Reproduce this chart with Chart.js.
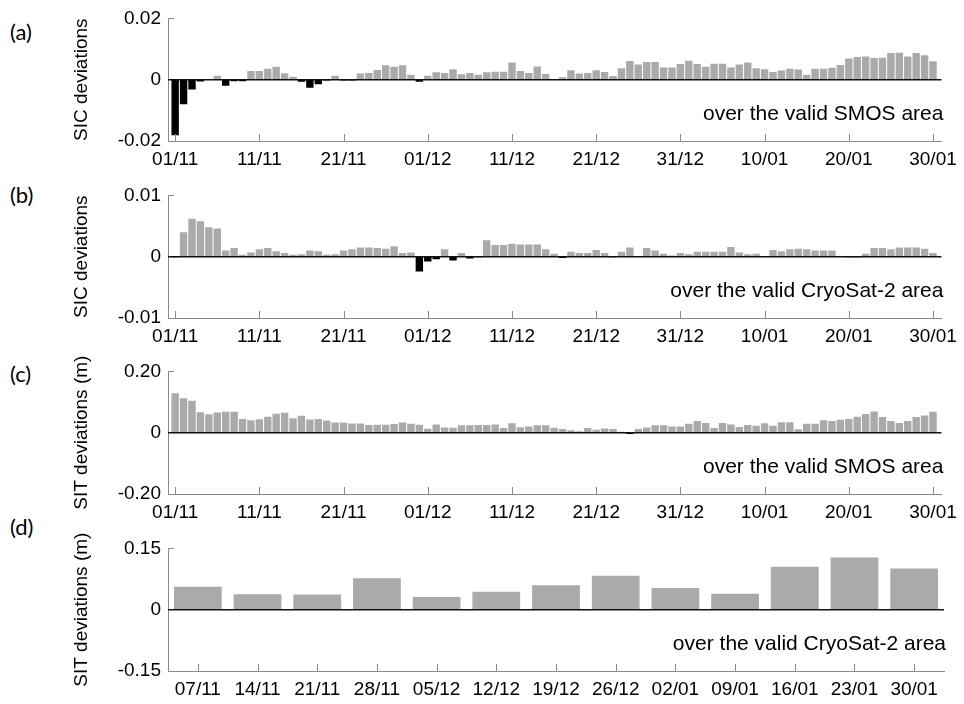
<!DOCTYPE html>
<html>
<head>
<meta charset="utf-8">
<script src="https://cdn.jsdelivr.net/npm/chart.js@4.4.1/dist/chart.umd.min.js"></script>
<style>
  html, body { margin: 0; padding: 0; background: #fff; width: 964px; height: 704px; overflow: hidden; }
  canvas { position: absolute; left: 0; }
  .plabel { position: absolute; left: 10px; font-family: Lato, "Open Sans", sans-serif; font-size: 22px; line-height: 22px; color: #000; }
</style>
</head>
<body>
<div class="plabel" style="top:21px">(a)</div>
<div class="plabel" style="top:184px">(b)</div>
<div class="plabel" style="top:363px">(c)</div>
<div class="plabel" style="top:516px">(d)</div>
<canvas id="ca" width="964" height="176" style="top:0px"></canvas>
<canvas id="cb" width="964" height="176" style="top:177px"></canvas>
<canvas id="cc" width="964" height="176" style="top:353px"></canvas>
<canvas id="cd" width="964" height="176" style="top:530px"></canvas>
<script>
// ---- Data ----
const dayTicks = [0, 10, 20, 30, 40, 50, 60, 70, 80, 90];
const dayTickLabels = ['01/11','11/11','21/11','01/12','11/12','21/12','31/12','10/01','20/01','30/01'];
const weekLabels = ['07/11','14/11','21/11','28/11','05/12','12/12','19/12','26/12','02/01','09/01','16/01','23/01','30/01'];

// (a) SIC deviations over the valid SMOS area (daily, 01/11 - 30/01)
const sicSmos = [
 -0.0181,-0.0080,-0.0032,-0.0006,0.0002,0.0013,-0.0020,-0.0005,-0.0005,0.0028,
  0.0028,0.0036,0.0042,0.0021,0.0010,-0.0007,-0.0026,-0.0015,-0.0003,0.0013,
 -0.0003,-0.0003,0.0020,0.0022,0.0032,0.0047,0.0042,0.0047,0.0016,-0.0007,
  0.0013,0.0024,0.0022,0.0034,0.0018,0.0022,0.0016,0.0024,0.0026,0.0026,
  0.0056,0.0028,0.0022,0.0043,0.0019,0.0001,0.0008,0.0031,0.0020,0.0022,
  0.0031,0.0025,0.0012,0.0037,0.0061,0.0050,0.0058,0.0058,0.0040,0.0040,
  0.0051,0.0062,0.0051,0.0042,0.0052,0.0052,0.0040,0.0050,0.0056,0.0037,
  0.0034,0.0025,0.0030,0.0036,0.0033,0.0016,0.0036,0.0036,0.0039,0.0048,
  0.0069,0.0074,0.0076,0.0071,0.0072,0.0087,0.0088,0.0076,0.0087,0.0080,
  0.0060
];
// (b) SIC deviations over the valid CryoSat-2 area
const sicCryo = [
 -0.0001,0.0040,0.0062,0.0058,0.0048,0.0046,0.0010,0.0014,0.0003,0.0007,
  0.0012,0.0014,0.0009,0.0006,0.0003,0.0004,0.0010,0.0009,0.0003,0.0004,
  0.0010,0.0012,0.0015,0.0015,0.0014,0.0013,0.0017,0.0006,0.0007,-0.0024,
 -0.0008,-0.0004,0.0012,-0.0006,0.0006,-0.0003,-0.0001,0.0027,0.0019,0.0019,
  0.0021,0.0020,0.0020,0.0020,0.0012,0.0005,-0.0002,0.0008,0.0006,0.0006,
  0.0011,0.0006,-0.0001,0.0008,0.0015,0.0001,0.0014,0.0010,0.0005,0.0002,
  0.0006,0.0004,0.0008,0.0008,0.0008,0.0008,0.0016,0.0007,0.0004,0.0005,
  0.0001,0.0011,0.0009,0.0012,0.0013,0.0012,0.0010,0.0010,0.0010,0.0001,
 -0.0001,-0.0001,0.0005,0.0014,0.0014,0.0012,0.0015,0.0015,0.0015,0.0013,
  0.0006
];
// (c) SIT deviations (m) over the valid SMOS area
const sitSmos = [
  0.129,0.112,0.104,0.067,0.060,0.066,0.068,0.068,0.045,0.041,
  0.044,0.052,0.062,0.065,0.047,0.055,0.043,0.045,0.040,0.033,
  0.033,0.030,0.030,0.025,0.026,0.026,0.028,0.033,0.029,0.026,
  0.013,0.027,0.017,0.016,0.024,0.024,0.025,0.025,0.027,0.015,
  0.031,0.018,0.020,0.024,0.024,0.016,0.012,0.008,0.005,0.015,
  0.010,0.014,0.012,0.003,-0.004,0.012,0.017,0.024,0.024,0.020,
  0.020,0.029,0.038,0.032,0.015,0.032,0.027,0.019,0.025,0.023,
  0.031,0.023,0.034,0.034,0.011,0.029,0.029,0.041,0.038,0.042,
  0.045,0.052,0.061,0.069,0.051,0.038,0.032,0.038,0.051,0.056,
  0.068
];
// (d) SIT deviations (m) over the valid CryoSat-2 area (weekly)
const sitCryo = [0.056,0.038,0.037,0.077,0.031,0.044,0.060,0.083,0.053,0.039,0.105,0.128,0.101];

const yLimits = [0.02, 0.01, 0.20, 0.15];
const yTickLabels = [['-0.02','0','0.02'], ['-0.01','0','0.01'], ['-0.20','0','0.20'], ['-0.15','0','0.15']];
const yTitles = ['SIC deviations', 'SIC deviations', 'SIT deviations (m)', 'SIT deviations (m)'];
const notes = ['over the valid SMOS area', 'over the valid CryoSat-2 area', 'over the valid SMOS area', 'over the valid CryoSat-2 area'];

// ---- Styles ----
const FONT = "'Liberation Sans', Arial, Helvetica, sans-serif";
const AXIS = '#8a8a8a';
const POS = '#aaaaaa';
const NEG = '#000000';

function decorPlugin(idx) {
  return {
    id: 'decor' + idx,
    afterDatasetsDraw(chart) {
      const ctx = chart.ctx;
      const a = chart.chartArea;
      const xs = chart.scales.x, ys = chart.scales.y;
      ctx.save();
      ctx.strokeStyle = AXIS;
      ctx.lineWidth = 1;
      ctx.beginPath();
      xs.ticks.forEach((t, i) => {
        const px = Math.round(xs.getPixelForTick(i)) + 0.5;
        ctx.moveTo(px, a.bottom);
        ctx.lineTo(px, a.bottom - 7);
      });
      const yt = Math.round(ys.getPixelForValue(yLimits[idx])) + 0.5;
      ctx.moveTo(a.left, yt); ctx.lineTo(a.left + 6, yt);
      ctx.stroke();
      const y0 = ys.getPixelForValue(0);
      ctx.strokeStyle = '#111';
      ctx.lineWidth = 1.5;
      ctx.beginPath();
      ctx.moveTo(a.left, y0);
      ctx.lineTo(a.right, y0);
      ctx.stroke();
      ctx.fillStyle = '#000';
      ctx.font = '21px ' + FONT;
      ctx.textAlign = 'right';
      ctx.textBaseline = 'alphabetic';
      ctx.fillText(notes[idx], a.right + 2, a.top + 102);
      ctx.translate(82, (a.top + a.bottom) / 2);
      ctx.rotate(-Math.PI / 2);
      ctx.textAlign = 'center';
      ctx.textBaseline = 'middle';
      ctx.font = '19px ' + FONT;
      ctx.fillText(yTitles[idx], 0, 0);
      ctx.restore();
    }
  };
}

function makeChart(canvasId, idx, values, weekly) {
  const lim = yLimits[idx];
  const xScale = weekly ? {
    type: 'category',
    offset: true,
    grid: { display: false, drawTicks: false },
    border: { display: true, color: AXIS, width: 1 },
    ticks: { color: '#000', font: { family: FONT, size: 19 }, padding: 7, maxRotation: 0, autoSkip: false },
    afterFit(s) { s.height = 35; }
  } : {
    type: 'linear',
    offset: false,
    min: -0.85,
    max: 91,
    grid: { display: false, drawTicks: false },
    border: { display: true, color: AXIS, width: 1 },
    afterBuildTicks(s) { s.ticks = dayTicks.map(v => ({ value: v })); },
    ticks: {
      color: '#000', font: { family: FONT, size: 19 }, padding: 7, maxRotation: 0, autoSkip: false,
      callback(v) { const k = dayTicks.indexOf(v); return k >= 0 ? dayTickLabels[k] : ''; }
    },
    afterFit(s) { s.height = 35; }
  };
  const data = weekly ? values : values.map((v, i) => ({ x: i, y: v }));
  return new Chart(document.getElementById(canvasId), {
    type: 'bar',
    data: {
      labels: weekly ? weekLabels : undefined,
      datasets: [{
        data: data,
        backgroundColor: ctx => (ctx.raw !== undefined && (typeof ctx.raw === 'object' ? ctx.raw.y : ctx.raw) < 0) ? NEG : POS,
        borderWidth: 0,
        barPercentage: weekly ? 0.8 : 0.88,
        categoryPercentage: 1.0
      }]
    },
    options: {
      responsive: false,
      animation: false,
      devicePixelRatio: 1,
      layout: { padding: { top: 16, right: 20, left: 0, bottom: 0 } },
      plugins: { legend: { display: false }, tooltip: { enabled: false } },
      scales: {
        x: xScale,
        y: {
          min: -lim,
          max: lim,
          grid: { display: false, drawTicks: false },
          border: { display: true, color: AXIS, width: 1 },
          afterBuildTicks(s) { s.ticks = [-lim, 0, lim].map(v => ({ value: v })); },
          ticks: {
            color: '#000', font: { family: FONT, size: 19 }, padding: 7,
            callback(v) {
              const k = [-lim, 0, lim].findIndex(t => Math.abs(t - v) < 1e-9);
              return k >= 0 ? yTickLabels[idx][k] : '';
            }
          },
          afterFit(s) { s.width = 168; }
        }
      }
    },
    plugins: [decorPlugin(idx)]
  });
}

makeChart('ca', 0, sicSmos, false);
makeChart('cb', 1, sicCryo, false);
makeChart('cc', 2, sitSmos, false);
makeChart('cd', 3, sitCryo, true);
</script>
</body>
</html>
